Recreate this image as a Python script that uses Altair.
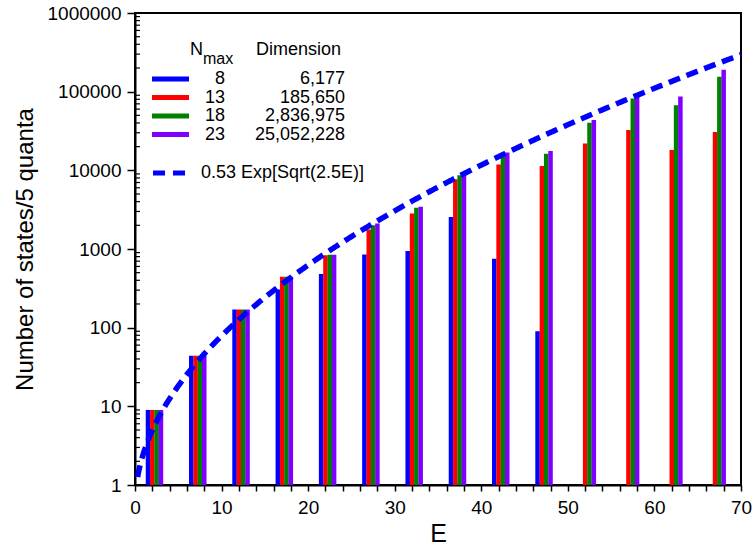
import altair as alt
import pandas as pd
import numpy as np

# ---------------- data ----------------
E_centers = [2.5, 7.5, 12.5, 17.5, 22.5, 27.5, 32.5, 37.5, 42.5, 47.5, 52.5, 57.5, 62.5, 67.5]
nmax_labels = ["8", "13", "18", "23"]
dimensions = ["6,177", "185,650", "2,836,975", "25,052,228"]
colors = ["#0000FF", "#FF0000", "#008000", "#8000FF"]

states_n8 = [9, 44, 170, 305, 480, 850, 940, 2550, 750, 90, None, None, None, None]
states_n13 = [9, 44, 170, 443, 830, 1770, 2830, 7700, 11900, 11350, 21900, 32600, 18100, 30800]
states_n18 = [9, 44, 170, 443, 845, 2000, 3350, 8650, 15500, 16300, 40400, 81900, 67300, 154500]
states_n23 = [9, 44, 170, 443, 845, 2110, 3450, 9200, 16800, 17600, 43700, 93000, 86900, 189600]
series = [states_n8, states_n13, states_n18, states_n23]

fit_label = "0.53 Exp[Sqrt(2.5E)]"
y_tick_values = [1, 10, 100, 1000, 10000, 100000, 1000000]
x_tick_values = list(range(0, 71, 2))

rows = []
for i, (lab, vals) in enumerate(zip(nmax_labels, series)):
    for e, v in zip(E_centers, vals):
        if v is not None:
            rows.append({"E": e, "nmax": lab, "idx": i, "count": v, "base": 1})
df = pd.DataFrame(rows)

minor = pd.DataFrame({"v": [m * 10 ** k for k in range(6) for m in range(2, 10)]})

FONT = "Liberation Sans"
W, H = 606, 472

xscale = alt.Scale(domain=[0, 70], nice=False, zero=False)
yscale = alt.Scale(type="log", domain=[1, 1e6], nice=False)

bars = alt.Chart(df).transform_calculate(
    x0="datum.E - 1.26 + 0.5 * datum.idx",
    x1="datum.E - 0.74 + 0.5 * datum.idx",
).mark_bar().encode(
    x=alt.X("x0:Q", scale=xscale,
            axis=alt.Axis(values=x_tick_values, tickCount=len(x_tick_values) + 4, title="E",
                          labelExpr="datum.value % 10 == 0 ? datum.label : ''",
                          labelOverlap=False, labelFlush=False,
                          tickSize=6, labelPadding=7, titlePadding=4,
                          labelFontSize=19, titleFontSize=25, titleFontWeight="normal",
                          grid=False)),
    x2="x1:Q",
    y=alt.Y("count:Q", scale=yscale,
            axis=alt.Axis(values=y_tick_values, tickCount=10, format="d",
                          title="Number of states/5 quanta",
                          labelOverlap=False,
                          tickSize=8, labelPadding=6, titlePadding=10,
                          labelFontSize=19, titleFontSize=24, titleFontWeight="normal",
                          grid=False)),
    y2="base:Q",
    color=alt.Color("nmax:N", scale=alt.Scale(domain=nmax_labels, range=colors), legend=None),
)

minor_ticks = alt.Chart(minor).mark_rule(color="black", strokeWidth=1.2).encode(
    y=alt.Y("v:Q", scale=yscale),
    x=alt.value(0),
    x2=alt.value(5),
)

curve = alt.Chart(alt.sequence(0.3, 70.05, 0.1, as_="E")).transform_calculate(
    n="0.53 * exp(sqrt(2.5 * datum.E))"
).mark_line(color="#0000FF", strokeWidth=5.5, strokeDash=[12, 7], clip=True).encode(
    x=alt.X("E:Q", scale=xscale),
    y=alt.Y("n:Q", scale=yscale),
)

# ---------------- hand-drawn legend ----------------
one = pd.DataFrame({"a": [0]})
legend_layers = []

def txt(label, x, y, size=18, align="left"):
    return alt.Chart(one).mark_text(
        text=label, fontSize=size, align=align, baseline="middle", font=FONT, color="black"
    ).encode(x=alt.value(x), y=alt.value(y))

legend_layers.append(txt("N", 55, 37))
legend_layers.append(txt("max", 68, 46, size=16))
legend_layers.append(txt("Dimension", 121, 37))

row_y = [66, 84.5, 103, 121.5]
for lab, dim, col, yy in zip(nmax_labels, dimensions, colors, row_y):
    legend_layers.append(
        alt.Chart(one).mark_rule(color=col, strokeWidth=5).encode(
            x=alt.value(17), x2=alt.value(54), y=alt.value(yy))
    )
    legend_layers.append(txt(lab, 90, yy, align="right"))
    legend_layers.append(txt(dim, 210, yy, align="right"))

legend_layers.append(
    alt.Chart(one).mark_rule(color="#0000FF", strokeWidth=5, strokeDash=[12, 8]).encode(
        x=alt.value(18), x2=alt.value(50), y=alt.value(160))
)
legend_layers.append(txt(fit_label, 66, 160))

chart = alt.layer(bars, minor_ticks, curve, *legend_layers).properties(
    width=W, height=H,
    padding={"left": 135, "top": 13, "right": 12, "bottom": 67},
    autosize=alt.AutoSizeParams(type="none"),
).configure(font=FONT).configure_view(
    stroke="black", strokeWidth=2
).configure_axis(
    domainColor="black", domainWidth=2, tickColor="black", tickWidth=1.5,
    labelColor="black", titleColor="black", labelFont=FONT, titleFont=FONT,
)

chart.save("out.html", embed_options={"renderer": "svg", "actions": False})
